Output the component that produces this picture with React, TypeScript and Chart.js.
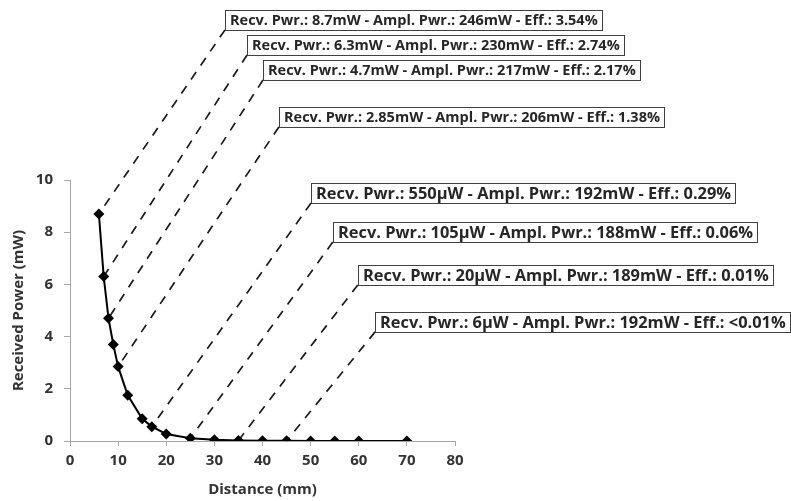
import { useEffect, useRef } from "react";
import { Chart, registerables } from "chart.js";

Chart.register(...registerables);

// Measured distances (mm) and received power (mW)
const distances = [6, 7, 8, 9, 10, 12, 15, 17, 20, 25, 30, 35, 40, 45, 50, 55, 60, 70];
const receivedPower = [8.7, 6.3, 4.7, 3.7, 2.85, 1.75, 0.85, 0.55, 0.27, 0.105, 0.045, 0.02, 0.012, 0.006, 0.004, 0.003, 0.002, 0.001];

// Callout labels: which distance they refer to and their text
const labelDistances = [6, 7, 8, 10, 17, 25, 35, 45];
const labelTexts = [
  "Recv. Pwr.: 8.7mW - Ampl. Pwr.: 246mW - Eff.: 3.54%",
  "Recv. Pwr.: 6.3mW - Ampl. Pwr.: 230mW - Eff.: 2.74%",
  "Recv. Pwr.: 4.7mW - Ampl. Pwr.: 217mW - Eff.: 2.17%",
  "Recv. Pwr.: 2.85mW - Ampl. Pwr.: 206mW - Eff.: 1.38%",
  "Recv. Pwr.: 550µW - Ampl. Pwr.: 192mW - Eff.: 0.29%",
  "Recv. Pwr.: 105µW - Ampl. Pwr.: 188mW - Eff.: 0.06%",
  "Recv. Pwr.: 20µW - Ampl. Pwr.: 189mW - Eff.: 0.01%",
  "Recv. Pwr.: 6µW - Ampl. Pwr.: 192mW - Eff.: <0.01%",
];

// Callout box anchors (bottom-left corner), expressed in data units
const labelAnchorDistance = [32.2, 36.8, 40.1, 43.4, 50.1, 54.6, 59.8, 63.4];
const labelAnchorPower = [15.75, 14.79, 13.83, 12.03, 9.12, 7.62, 5.98, 4.18];

// Callout font sizes (px): the lower four callouts use a larger font
const labelFontSizes = [14.5, 14.5, 14.5, 14.5, 16.4, 16.4, 16.4, 16.4];

const FONT = "'Open Sans', 'Liberation Sans', sans-serif";
const AXIS_GREY = "#a6a6a6";
const TEXT_DARK = "#333333";

export default function App() {
  const ref = useRef<HTMLCanvasElement>(null);

  useEffect(() => {
    if (!ref.current) return;

    const calloutPlugin = {
      id: "callouts",
      beforeDatasetsDraw(chart: any) {
        const { ctx } = chart;
        const x = chart.scales.x;
        const y = chart.scales.y;
        ctx.save();
        ctx.strokeStyle = "#1a1a1a";
        ctx.lineWidth = 1.7;
        ctx.setLineDash([9, 8]);
        labelDistances.forEach((d, i) => {
          const idx = distances.indexOf(d);
          const px = x.getPixelForValue(d);
          const py = y.getPixelForValue(receivedPower[idx]);
          const ax = x.getPixelForValue(labelAnchorDistance[i]);
          const ay = y.getPixelForValue(labelAnchorPower[i]);
          ctx.beginPath();
          ctx.moveTo(ax, ay);
          ctx.lineTo(px, py);
          ctx.stroke();
        });
        ctx.restore();
      },
      afterDatasetsDraw(chart: any) {
        const { ctx } = chart;
        const x = chart.scales.x;
        const y = chart.scales.y;
        ctx.save();
        ctx.textBaseline = "middle";
        ctx.textAlign = "left";
        labelTexts.forEach((t, i) => {
          ctx.font = `bold ${labelFontSizes[i]}px ${FONT}`;
          const ax = Math.round(x.getPixelForValue(labelAnchorDistance[i]));
          const ay = Math.round(y.getPixelForValue(labelAnchorPower[i]));
          const h = 20;
          const w = Math.round(ctx.measureText(t).width + 9);
          ctx.fillStyle = "#ffffff";
          ctx.fillRect(ax, ay - h, w, h);
          ctx.strokeStyle = "#404040";
          ctx.lineWidth = 1;
          ctx.strokeRect(ax + 0.5, ay - h + 0.5, w, h);
          ctx.fillStyle = "#262626";
          ctx.fillText(t, ax + 5, ay - h / 2 + 1);
        });
        ctx.restore();
      },
    };

    const chart = new Chart(ref.current, {
      type: "line",
      data: {
        datasets: [
          {
            data: distances.map((d, i) => ({ x: d, y: receivedPower[i] })),
            borderColor: "#000000",
            backgroundColor: "#000000",
            borderWidth: 2,
            pointStyle: "rectRot",
            pointRadius: 5.5,
            pointBorderWidth: 0,
            tension: 0,
          },
        ],
      },
      options: {
        animation: false,
        responsive: true,
        maintainAspectRatio: false,
        layout: { padding: { left: 10, right: 336, top: 180, bottom: 2 } },
        plugins: {
          legend: { display: false },
          tooltip: { enabled: false },
        },
        scales: {
          x: {
            type: "linear",
            min: 0,
            max: 80,
            ticks: { stepSize: 10, color: TEXT_DARK, font: { family: FONT, size: 15, weight: "bold" }, padding: 6 },
            grid: { drawOnChartArea: false, drawTicks: true, tickLength: 5, color: AXIS_GREY },
            border: { color: AXIS_GREY, width: 1 },
            title: {
              display: true,
              text: "Distance (mm)",
              color: TEXT_DARK,
              font: { family: FONT, size: 15, weight: "bold" },
              padding: { top: 4, bottom: 0 },
            },
            afterFit: (s: any) => {
              s.height = 58;
            },
          },
          y: {
            min: 0,
            max: 10,
            ticks: { stepSize: 2, color: TEXT_DARK, font: { family: FONT, size: 15, weight: "bold" }, padding: 11 },
            grid: { drawOnChartArea: false, drawTicks: true, tickLength: 6, color: AXIS_GREY },
            border: { color: AXIS_GREY, width: 1 },
            title: {
              display: true,
              text: "Received Power (mW)",
              color: TEXT_DARK,
              font: { family: FONT, size: 15, weight: "bold" },
              padding: { top: 0, bottom: 0 },
            },
            afterFit: (s: any) => {
              s.width = 60;
            },
          },
        },
      },
      plugins: [calloutPlugin],
    } as any);

    return () => chart.destroy();
  }, []);

  return (
    <div style={{ position: "fixed", left: 0, top: 0, width: 791, height: 501 }}>
      <canvas ref={ref} />
    </div>
  );
}
